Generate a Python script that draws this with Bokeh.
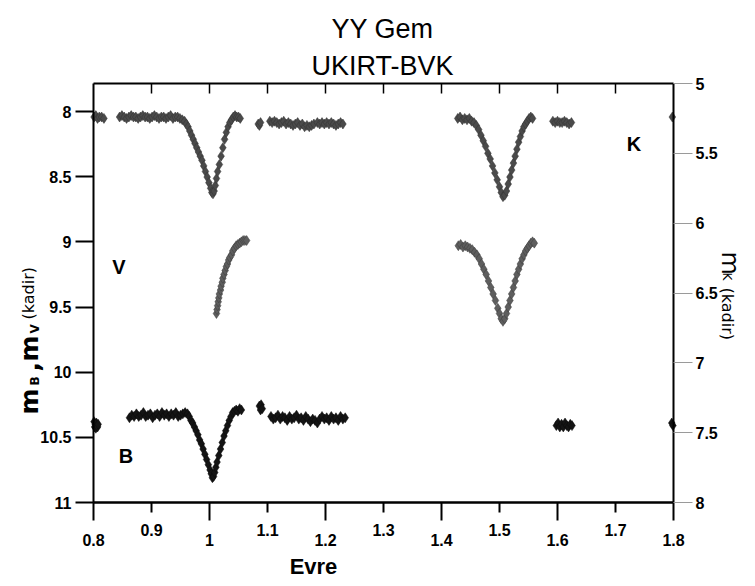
import math
from bokeh.plotting import figure
from bokeh.models import Range1d, LinearAxis, FixedTicker
from bokeh.core.properties import value
from bokeh.embed import file_html
from bokeh.resources import INLINE

# ---------------- data ----------------
b_phase = [0.801, 0.802, 0.803, 0.804, 0.805, 0.806, 0.807, 0.808,
           0.862, 0.866, 0.870, 0.874, 0.878, 0.882, 0.886, 0.890, 0.894, 0.898, 0.902, 0.906,
           0.910, 0.914, 0.918, 0.922, 0.926, 0.930, 0.934, 0.938, 0.942, 0.946, 0.950, 0.954,
           0.958, 0.962,
           0.965, 0.968, 0.971, 0.974, 0.977, 0.980, 0.983, 0.986, 0.989, 0.992, 0.995, 0.998,
           1.001, 1.003, 1.005, 1.007, 1.009, 1.011, 1.013, 1.016, 1.019, 1.022, 1.025, 1.028,
           1.031, 1.034, 1.037, 1.040, 1.043, 1.046, 1.049, 1.052, 1.055,
           1.086, 1.088, 1.089, 1.091,
           1.106, 1.110, 1.114, 1.118, 1.122, 1.126, 1.130, 1.134, 1.138, 1.142, 1.146, 1.150,
           1.154, 1.158, 1.162, 1.166, 1.170, 1.174, 1.178, 1.182, 1.186, 1.190, 1.194, 1.198,
           1.202, 1.206, 1.210, 1.214, 1.218, 1.222, 1.226, 1.230, 1.234,
           1.598, 1.601, 1.604, 1.607, 1.610, 1.613, 1.616, 1.619, 1.622, 1.625,
           1.797, 1.799]
b_mag = [10.38, 10.42, 10.40, 10.43, 10.39, 10.41, 10.42, 10.40,
         10.35, 10.33, 10.34, 10.32, 10.34, 10.33, 10.31, 10.34, 10.33, 10.32, 10.35, 10.33,
         10.32, 10.34, 10.31, 10.33, 10.32, 10.34, 10.32, 10.33, 10.31, 10.34, 10.33, 10.32,
         10.31, 10.32,
         10.34, 10.37, 10.39, 10.42, 10.45, 10.48, 10.52, 10.55, 10.59, 10.63, 10.67, 10.71,
         10.75, 10.78, 10.81, 10.80, 10.77, 10.73, 10.69, 10.64, 10.59, 10.54, 10.49, 10.45,
         10.41, 10.37, 10.34, 10.31, 10.30, 10.29, 10.30, 10.28, 10.29,
         10.26, 10.29, 10.25, 10.28,
         10.34, 10.36, 10.35, 10.33, 10.36, 10.34, 10.35, 10.37, 10.34, 10.36, 10.35, 10.33,
         10.36, 10.35, 10.37, 10.34, 10.36, 10.38, 10.36, 10.37, 10.39, 10.36, 10.34, 10.36,
         10.35, 10.37, 10.34, 10.36, 10.35, 10.37, 10.34, 10.36, 10.35,
         10.41, 10.39, 10.42, 10.40, 10.42, 10.39, 10.41, 10.42, 10.40, 10.41,
         10.39, 10.41]

v_phase = [1.012, 1.013, 1.014, 1.015, 1.016, 1.017, 1.019, 1.020, 1.022, 1.023, 1.025, 1.027,
           1.029, 1.031, 1.033, 1.035, 1.038, 1.040, 1.043, 1.046, 1.049, 1.052, 1.055, 1.058,
           1.061, 1.064,
           1.429, 1.433, 1.437, 1.441, 1.445, 1.449, 1.453, 1.457, 1.461, 1.465, 1.469, 1.473,
           1.477, 1.481, 1.485, 1.489, 1.493, 1.497, 1.500, 1.503, 1.506, 1.509, 1.512, 1.515,
           1.518, 1.521, 1.524, 1.527, 1.530, 1.533, 1.536, 1.539, 1.542, 1.545, 1.548, 1.551,
           1.554, 1.557, 1.560]
v_mag = [9.55, 9.52, 9.49, 9.46, 9.43, 9.40, 9.37, 9.34, 9.31, 9.28, 9.25, 9.22,
         9.19, 9.17, 9.14, 9.12, 9.10, 9.07, 9.05, 9.03, 9.02, 9.01, 9.00, 8.99,
         8.99, 8.99,
         9.03, 9.02, 9.04, 9.03, 9.04, 9.05, 9.06, 9.08, 9.10, 9.13, 9.17, 9.21,
         9.25, 9.30, 9.35, 9.40, 9.45, 9.51, 9.55, 9.59, 9.61, 9.59, 9.55, 9.50,
         9.45, 9.40, 9.35, 9.30, 9.25, 9.21, 9.17, 9.13, 9.10, 9.07, 9.05, 9.03,
         9.01, 9.00, 9.01]

k_phase = [0.801, 0.804, 0.807, 0.810, 0.814, 0.818,
           0.845, 0.849, 0.853, 0.857, 0.861, 0.865, 0.869, 0.873, 0.877, 0.881, 0.885, 0.889,
           0.893, 0.897, 0.901, 0.905, 0.909, 0.913, 0.917, 0.921, 0.925, 0.929, 0.933, 0.937,
           0.941, 0.945, 0.949, 0.953,
           0.957, 0.960, 0.963, 0.966, 0.969, 0.972, 0.975, 0.978, 0.981, 0.984, 0.987, 0.990,
           0.993, 0.996, 0.999, 1.002, 1.004, 1.006, 1.008, 1.010, 1.012, 1.014, 1.017, 1.020,
           1.023, 1.026, 1.029, 1.032, 1.035, 1.038, 1.041, 1.044, 1.047, 1.050, 1.053,
           1.084, 1.086, 1.088,
           1.104, 1.108, 1.112, 1.116, 1.120, 1.124, 1.128, 1.132, 1.136, 1.140, 1.144, 1.148,
           1.152, 1.156, 1.160, 1.164, 1.168, 1.172, 1.176, 1.180, 1.186, 1.190, 1.194, 1.198,
           1.202, 1.206, 1.210, 1.214, 1.218, 1.222, 1.226, 1.230,
           1.428, 1.432, 1.436, 1.440, 1.444, 1.448, 1.452, 1.456, 1.460, 1.464, 1.468, 1.472,
           1.476, 1.480, 1.484, 1.488, 1.492, 1.496, 1.500, 1.503, 1.506, 1.509, 1.512, 1.515,
           1.518, 1.521, 1.524, 1.527, 1.530, 1.533, 1.536, 1.539, 1.542, 1.545, 1.548, 1.551,
           1.554, 1.557,
           1.592, 1.596, 1.600, 1.604, 1.608, 1.612, 1.616, 1.620, 1.624,
           1.798]
k_mag = [5.24, 5.23, 5.25, 5.24, 5.24, 5.25,
         5.24, 5.23, 5.24, 5.25, 5.24, 5.23, 5.24, 5.24, 5.25, 5.24, 5.23, 5.24,
         5.24, 5.25, 5.24, 5.23, 5.24, 5.25, 5.24, 5.24, 5.25, 5.24, 5.23, 5.25,
         5.24, 5.24, 5.25, 5.26,
         5.27, 5.29, 5.31, 5.34, 5.37, 5.40, 5.43, 5.46, 5.49, 5.52, 5.55, 5.59,
         5.63, 5.67, 5.71, 5.75, 5.78, 5.79, 5.77, 5.73, 5.68, 5.63, 5.58, 5.52,
         5.46, 5.40, 5.35, 5.31, 5.28, 5.26, 5.24, 5.23, 5.24, 5.24, 5.25,
         5.29, 5.30, 5.28,
         5.27, 5.28, 5.27, 5.28, 5.29, 5.28, 5.27, 5.29, 5.28, 5.29, 5.30, 5.29,
         5.28, 5.30, 5.29, 5.31, 5.30, 5.31, 5.30, 5.29, 5.28, 5.29, 5.28, 5.29,
         5.28, 5.29, 5.28, 5.29, 5.30, 5.29, 5.28, 5.29,
         5.25, 5.24, 5.26, 5.25, 5.26, 5.25, 5.27, 5.28, 5.30, 5.33, 5.37, 5.41,
         5.45, 5.50, 5.54, 5.59, 5.64, 5.69, 5.74, 5.78, 5.81, 5.80, 5.77, 5.72,
         5.67, 5.62, 5.57, 5.52, 5.47, 5.42, 5.38, 5.34, 5.31, 5.29, 5.27, 5.25,
         5.24, 5.25,
         5.27, 5.28, 5.27, 5.28, 5.28, 5.27, 5.28, 5.29, 5.28,
         5.24]

band_label_x = [0.844, 0.856, 1.732]
band_label_y = [9.19, 10.64, 8.25]
band_label_text = ["V", "B", "K"]

x_even_ticks = [0.8, 1.0, 1.2, 1.4, 1.6, 1.8]
x_even_labels = ["0.8", "1", "1.2", "1.4", "1.6", "1.8"]
x_odd_ticks = [0.9, 1.1, 1.3, 1.5, 1.7]
x_odd_labels = ["0.9", "1.1", "1.3", "1.5", "1.7"]
x_top_ticks = [0.9, 1.0, 1.1, 1.2, 1.3, 1.4, 1.5, 1.6, 1.7]
left_ticks = [8, 8.5, 9, 9.5, 10, 10.5, 11]
left_labels = ["8", "8.5", "9", "9.5", "10", "10.5", "11"]
right_ticks = [5, 5.5, 6, 6.5, 7, 7.5, 8]
right_labels = ["5", "5.5", "6", "6.5", "7", "7.5", "8"]

title_lines = ["YY Gem", "UKIRT-BVK"]
x_title = "Evre"

# ---------------- geometry (pixels of the page) ----------------
W, H = 755, 586
PX_L, PX_R = 93, 673          # x = 0.8 and x = 1.8
PY_8, PY_11 = 111, 502        # left scale 8 and 11
PY_K5, PY_K8 = 83, 502        # right scale 5 and 8
X_PER = (PX_R - PX_L) / 1.0
Y_PER = (PY_11 - PY_8) / 3.0
K_PER = (PY_K8 - PY_K5) / 3.0


def xd(px):
    return 0.8 + (px - PX_L) / X_PER


def yd(py):
    return 8 + (py - PY_8) / Y_PER


Y_TOP = yd(PY_K5)   # value of the left scale at the frame top

p = figure(width=W, height=H, output_backend="svg", toolbar_location=None,
           x_range=Range1d(xd(0), xd(W)), y_range=Range1d(yd(H), yd(0)),
           x_axis_location=None, y_axis_location=None,
           min_border=0, min_border_left=0, min_border_right=0,
           min_border_top=0, min_border_bottom=0)
p.title.text = ""
p.extra_y_ranges = {"k": Range1d(8 + (H - PY_K8) / K_PER, 5 - PY_K5 / K_PER)}
p.xgrid.visible = False
p.ygrid.visible = False
p.outline_line_color = None
p.background_fill_color = "white"
p.border_fill_color = "white"

FONT = "Liberation Sans"


def style(ax):
    ax.axis_line_width = 2
    ax.axis_line_color = "black"
    ax.major_tick_line_width = 2
    ax.minor_tick_line_width = 2
    ax.major_tick_in = 0
    ax.minor_tick_in = 0
    ax.minor_tick_out = 0
    ax.major_label_text_font = FONT
    ax.major_label_text_font_style = "bold"
    ax.major_label_text_font_size = "16px"
    ax.major_label_text_color = "black"


# bottom: even ticks (long, lower labels)
xb = LinearAxis(ticker=FixedTicker(ticks=x_even_ticks, minor_ticks=[]),
                fixed_location=11, bounds=(0.8, 1.8))
style(xb)
xb.major_tick_out = 18
xb.major_label_standoff = 13
xb.major_label_overrides = dict(zip(x_even_ticks, x_even_labels))
p.add_layout(xb, "below")

# bottom: odd ticks (short, higher labels)
xb2 = LinearAxis(ticker=FixedTicker(ticks=x_odd_ticks, minor_ticks=[]),
                 fixed_location=11, bounds=(0.8, 1.8))
style(xb2)
xb2.major_tick_out = 10
xb2.major_label_standoff = 11
xb2.major_label_overrides = dict(zip(x_odd_ticks, x_odd_labels))
p.add_layout(xb2, "below")

# top: inner ticks only
xt = LinearAxis(ticker=FixedTicker(ticks=[], minor_ticks=x_top_ticks),
                fixed_location=Y_TOP, bounds=(0.8, 1.8))
style(xt)
xt.minor_tick_in = 10
xt.minor_tick_out = 0
xt.minor_tick_line_width = 1.5
p.add_layout(xt, "above")

# left scale (B, V)
yl = LinearAxis(ticker=FixedTicker(ticks=left_ticks, minor_ticks=[]),
                fixed_location=0.8, bounds=(11, Y_TOP))
style(yl)
yl.major_tick_out = 18
yl.major_label_standoff = 4
yl.major_label_overrides = dict(zip(left_ticks, left_labels))
p.add_layout(yl, "left")

# right scale (K)
yr = LinearAxis(y_range_name="k", ticker=FixedTicker(ticks=right_ticks, minor_ticks=[]),
                fixed_location=1.8, bounds=(5, 8))
style(yr)
yr.major_tick_out = 19
yr.major_tick_line_width = 1
yr.major_tick_line_color = "#9a9a9a"
yr.major_label_standoff = 3
yr.major_label_overrides = dict(zip(right_ticks, right_labels))
p.add_layout(yr, "right")

# ---------------- data marks ----------------
p.scatter(k_phase, k_mag, y_range_name="k", marker="diamond", size=10,
          fill_color="#4a4a4a", line_color="#333333", line_width=0.5)
p.scatter(v_phase, v_mag, marker="diamond", size=10,
          fill_color="#5e5e5e", line_color="#3c3c3c", line_width=0.5)
p.scatter(b_phase, b_mag, marker="diamond", size=10,
          fill_color="#141414", line_color="#0a0a0a", line_width=0.5)

p.text(x=band_label_x, y=band_label_y, text=band_label_text,
       text_font=value(FONT), text_font_style="bold", text_font_size="20px",
       text_align="center", text_baseline="middle", text_color="black")


# ---------------- titles ----------------
def put(text, px, py, size, font=FONT, style_="normal", align="left", angle=0.0):
    p.text(x=[xd(px)], y=[yd(py)], text=[text], text_font=value(font),
           text_font_size=f"{size}px", text_font_style=style_, text_align=align,
           text_baseline="alphabetic", angle=angle, text_color="black")


put(title_lines[0], 382, 28, 27, align="center")
put(title_lines[1], 382, 65, 27, align="center")
put(x_title, 313, 566, 22, style_="bold", align="center")

# left axis title, reading upwards
up = math.pi / 2
put("m", 29, 414, 25, font="DejaVu Sans", style_="bold", angle=up)
put("B", 34, 385, 12, font="DejaVu Sans", style_="bold", angle=up)
put(",", 29, 371, 25, font="DejaVu Sans", style_="bold", angle=up)
put("m", 29, 361, 25, font="DejaVu Sans", style_="bold", angle=up)
put("V", 34, 333, 12, font="DejaVu Sans", style_="bold", angle=up)
put("(kadir)", 28, 319, 16, font="DejaVu Sans", angle=up)

# right axis title, reading downwards
down = -math.pi / 2
put("m", 729, 251, 24, font="DejaVu Sans", angle=down)
put("K", 726, 272, 12, font="DejaVu Sans", angle=down)
put("(kadir)", 727, 287, 16, font="DejaVu Sans", angle=down)

open("out.html", "w").write(file_html(p, INLINE))
